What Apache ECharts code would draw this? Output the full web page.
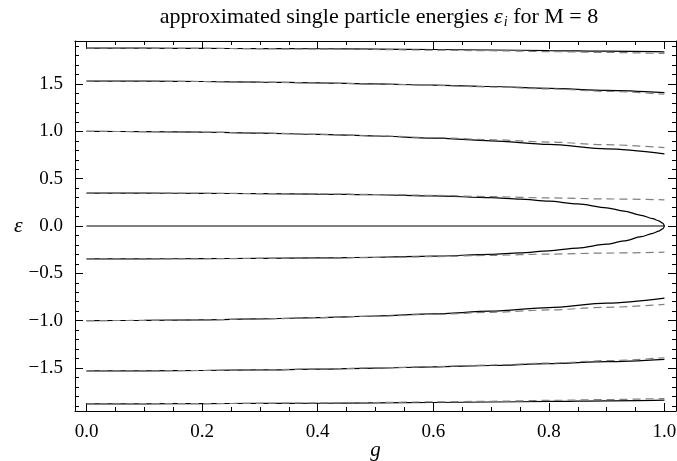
<!DOCTYPE html>
<html>
<head>
<meta charset="utf-8">
<script src="https://cdn.jsdelivr.net/npm/echarts@6/dist/echarts.min.js"></script>
<style>
  html, body { margin: 0; padding: 0; background: #ffffff; }
  #chart { width: 677px; height: 461px; }
</style>
</head>
<body>
<div id="chart"></div>
<script>
// coupling g
const gValues = [0, 0.1, 0.2, 0.3, 0.4, 0.5, 0.6, 0.7, 0.8, 0.9, 1.0];
// finer g for the level that closes onto zero at g = 1
const gFine = [0, 0.1, 0.2, 0.3, 0.4, 0.5, 0.6, 0.7, 0.75, 0.8, 0.85, 0.9, 0.93, 0.96, 0.98, 0.99, 0.997, 1.0];

// exact energies (solid), upper half; lower half is the mirror
const exact1 = [1.879, 1.879, 1.877, 1.875, 1.873, 1.869, 1.865, 1.860, 1.854, 1.847, 1.840];
const exact2 = [1.532, 1.531, 1.527, 1.521, 1.513, 1.502, 1.489, 1.474, 1.455, 1.434, 1.409];
const exact3 = [1.000, 0.998, 0.992, 0.982, 0.968, 0.951, 0.929, 0.900, 0.862, 0.816, 0.763];
const exact4 = [0.347, 0.347, 0.345, 0.342, 0.337, 0.330, 0.319, 0.299, 0.284, 0.262, 0.233, 0.192, 0.158, 0.113, 0.077, 0.055, 0.031, 0.0];
const exact0 = [0, 0, 0, 0, 0, 0, 0, 0, 0, 0, 0];

// approximated energies (dashed)
const approx1 = [1.879, 1.878, 1.877, 1.874, 1.870, 1.865, 1.859, 1.852, 1.843, 1.834, 1.823];
const approx2 = [1.532, 1.531, 1.527, 1.520, 1.512, 1.500, 1.486, 1.469, 1.449, 1.423, 1.392];
const approx3 = [1.000, 0.998, 0.992, 0.982, 0.969, 0.953, 0.934, 0.912, 0.887, 0.859, 0.829];
const approx4 = [0.347, 0.347, 0.346, 0.343, 0.339, 0.333, 0.324, 0.310, 0.297, 0.286, 0.277];

// tick labels
const xMajor = [0, 0.2, 0.4, 0.6, 0.8, 1.0];
const yMajor = [-1.5, -1.0, -0.5, 0, 0.5, 1.0, 1.5];

const xMin = -0.02, xMax = 1.02;
const yMin = -1.955, yMax = 1.955;

function stepsFrom(lo, hi, step) {
  const out = [];
  for (let v = lo; v <= hi + 1e-9; v += step) {
    out.push(Math.round(v * 100) / 100);
  }
  return out;
}
const xMinor = stepsFrom(0, 1.0, 0.05).filter(v => !xMajor.some(m => Math.abs(m - v) < 1e-6));
const yMinor = stepsFrom(-1.9, 1.9, 0.1).filter(v => !yMajor.some(m => Math.abs(m - v) < 1e-6));

const serif = 'Liberation Serif';
const fmt = v => (v < 0 ? '\u2212' : '') + Math.abs(v).toFixed(1);

function pair(xs, ys, sign) {
  return xs.map((x, i) => [x, sign * ys[i]]);
}

function axisDef(pos, lo, hi, ticks, len, labels, margin) {
  return {
    type: 'value', position: pos, min: lo, max: hi,
    axisLine: { show: len > 5, onZero: false, lineStyle: { color: '#000', width: 1 } },
    axisTick: { show: true, inside: true, length: len, customValues: ticks, lineStyle: { color: '#000', width: 1 } },
    axisLabel: labels ? { show: true, customValues: labels, formatter: fmt, fontFamily: serif, fontSize: 19, color: '#000', margin: margin } : { show: false },
    splitLine: { show: false }
  };
}

const xAxes = [
  Object.assign(axisDef('bottom', xMin, xMax, xMajor, 8, xMajor, 12), {
    name: 'g', nameLocation: 'middle', nameGap: 29, nameMoveOverlap: false,
    nameTextStyle: { fontFamily: serif, fontStyle: 'italic', fontSize: 21, color: '#000' }
  }),
  axisDef('bottom', xMin, xMax, xMinor, 4, null),
  axisDef('top', xMin, xMax, xMajor, 8, null),
  axisDef('top', xMin, xMax, xMinor, 4, null)
];
const yAxes = [
  Object.assign(axisDef('left', yMin, yMax, yMajor, 8, yMajor, 12), {
    name: '\u03b5', nameLocation: 'middle', nameGap: 52, nameRotate: 0,
    nameTextStyle: { fontFamily: serif, fontStyle: 'italic', fontSize: 22, color: '#000' }
  }),
  axisDef('left', yMin, yMax, yMinor, 4, null),
  axisDef('right', yMin, yMax, yMajor, 8, null),
  axisDef('right', yMin, yMax, yMinor, 4, null)
];

const solidStyle = { color: '#000', width: 1.2 };
const dashStyle = { color: '#808080', width: 1.2, type: [8, 5] };

const series = [];
function addLine(data, style) {
  series.push({
    type: 'line', data: data, showSymbol: false, symbol: 'none',
    smooth: 0.3, smoothMonotone: 'x',
    lineStyle: style, silent: true, animation: false
  });
}
[exact1, exact2, exact3].forEach(arr => {
  addLine(pair(gValues, arr, 1), solidStyle);
  addLine(pair(gValues, arr, -1), solidStyle);
});
addLine(pair(gFine, exact4, 1), solidStyle);
addLine(pair(gFine, exact4, -1), solidStyle);
addLine(pair(gValues, exact0, 1), solidStyle);
[approx1, approx2, approx3, approx4].forEach(arr => {
  addLine(pair(gValues, arr, 1), dashStyle);
  addLine(pair(gValues, arr, -1), dashStyle);
});

const chart = echarts.init(document.getElementById('chart'));
chart.setOption({
  animation: false,
  backgroundColor: '#fff',
  title: {
    text: '{a|approximated single particle energies }{e|\u03b5}{s|i}{a| for M = 8}',
    left: 374, top: 1, textAlign: 'center',
    textStyle: {
      fontWeight: 'normal',
      rich: {
        a: { fontFamily: serif, fontSize: 22, fontWeight: 'normal', color: '#000' },
        e: { fontFamily: serif, fontSize: 22, fontWeight: 'normal', fontStyle: 'italic', color: '#000' },
        s: { fontFamily: serif, fontSize: 14, fontWeight: 'normal', fontStyle: 'italic', color: '#000', padding: [9, 0, 0, 1] }
      }
    }
  },
  grid: { left: 75, right: 1, top: 41, bottom: 50, containLabel: false, outerBoundsMode: 'none' },
  xAxis: xAxes,
  yAxis: yAxes,
  series: series
});
</script>
</body>
</html>
